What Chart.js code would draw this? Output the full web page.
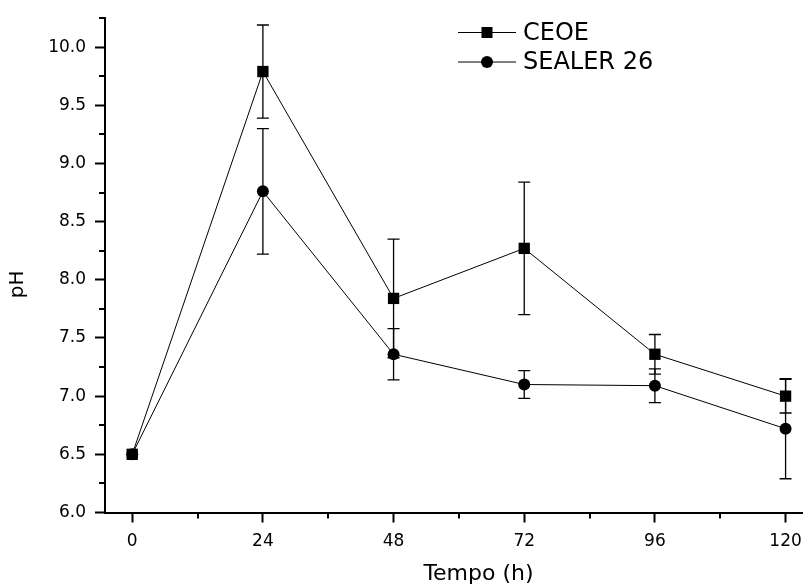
<!DOCTYPE html>
<html>
<head>
<meta charset="utf-8">
<script src="https://cdn.jsdelivr.net/npm/chart.js@4/dist/chart.umd.min.js"></script>
<style>
html,body{margin:0;padding:0;background:#fff;}
#wrap{width:803px;height:587px;position:relative;}
</style>
</head>
<body>
<div id="wrap"><canvas id="c" width="803" height="587"></canvas></div>
<script>
// ---- data ----
const timeHours = [0, 24, 48, 72, 96, 120];
const ceoeValues = [6.50, 9.79, 7.84, 8.27, 7.36, 7.00];
const ceoeErrors = [0.00, 0.40, 0.51, 0.57, 0.17, 0.145];
const sealerValues = [6.50, 8.76, 7.36, 7.10, 7.09, 6.72];
const sealerErrors = [0.00, 0.54, 0.22, 0.12, 0.145, 0.43];
const seriesNames = ['CEOE', 'SEALER 26'];
const xTickValues = [0, 24, 48, 72, 96, 120];
const xMinorTicks = [12, 36, 60, 84, 108];
const yTickValues = [6.0, 6.5, 7.0, 7.5, 8.0, 8.5, 9.0, 9.5, 10.0];
const yMinorTicks = [6.25, 6.75, 7.25, 7.75, 8.25, 8.75, 9.25, 9.75, 10.25];
const xTitle = 'Tempo (h)';
const yTitle = 'pH';

const FONT = "'DejaVu Sans', sans-serif";

function pts(vals) { return timeHours.map((t, i) => ({x: t, y: vals[i]})); }

const errorBarPlugin = {
  id: 'errorBars',
  beforeDatasetsDraw(chart) {
    const ctx = chart.ctx;
    const xs = chart.scales.x, ys = chart.scales.y;
    const errs = [ceoeErrors, sealerErrors];
    const vals = [ceoeValues, sealerValues];
    ctx.save();
    ctx.strokeStyle = '#000';
    ctx.lineWidth = 1.3;
    errs.forEach((e, d) => {
      timeHours.forEach((t, i) => {
        if (!e[i]) return;
        const px = xs.getPixelForValue(t);
        const top = ys.getPixelForValue(vals[d][i] + e[i]);
        const bot = ys.getPixelForValue(vals[d][i] - e[i]);
        ctx.beginPath();
        ctx.moveTo(px, top); ctx.lineTo(px, bot);
        ctx.moveTo(px - 6, top); ctx.lineTo(px + 6, top);
        ctx.moveTo(px - 6, bot); ctx.lineTo(px + 6, bot);
        ctx.stroke();
      });
    });
    ctx.restore();
  }
};

const minorTickPlugin = {
  id: 'minorTicks',
  afterDraw(chart) {
    const ctx = chart.ctx;
    const xs = chart.scales.x, ys = chart.scales.y;
    const ca = chart.chartArea;
    ctx.save();
    ctx.strokeStyle = '#000';
    ctx.lineWidth = 2;
    ctx.beginPath();
    xMinorTicks.forEach(v => {
      const px = Math.round(xs.getPixelForValue(v));
      ctx.moveTo(px, ca.bottom); ctx.lineTo(px, ca.bottom + 6);
    });
    yMinorTicks.forEach(v => {
      const py = Math.round(ys.getPixelForValue(v));
      ctx.moveTo(ca.left, py); ctx.lineTo(ca.left - 6, py);
    });
    ctx.stroke();
    ctx.restore();
  }
};

const legendPlugin = {
  id: 'customLegend',
  afterDraw(chart) {
    const ctx = chart.ctx;
    const items = [
      {name: seriesNames[0], style: 'rect', y: 32.5},
      {name: seriesNames[1], style: 'circle', y: 62}
    ];
    ctx.save();
    items.forEach(it => {
      ctx.strokeStyle = '#000';
      ctx.lineWidth = 1;
      ctx.beginPath();
      ctx.moveTo(458, it.y); ctx.lineTo(516, it.y);
      ctx.stroke();
      ctx.fillStyle = '#000';
      if (it.style === 'rect') {
        ctx.fillRect(487 - 5.5, it.y - 5.5, 11, 11);
      } else {
        ctx.beginPath(); ctx.arc(487, it.y, 6, 0, Math.PI * 2); ctx.fill();
      }
      ctx.font = '24px ' + FONT;
      ctx.textBaseline = 'middle';
      ctx.textAlign = 'left';
      ctx.fillText(it.name, 523, it.y + 1);
    });
    ctx.restore();
  }
};

new Chart(document.getElementById('c'), {
  type: 'line',
  data: {
    datasets: [
      {
        label: seriesNames[0], data: pts(ceoeValues), order: 1,
        borderColor: '#000', backgroundColor: '#000', borderWidth: 1,
        pointStyle: 'rect', pointRadius: 8, pointHoverRadius: 8, pointBorderWidth: 0
      },
      {
        label: seriesNames[1], data: pts(sealerValues), order: 0,
        borderColor: '#000', backgroundColor: '#000', borderWidth: 1,
        pointStyle: 'circle', pointRadius: 6, pointHoverRadius: 6, pointBorderWidth: 0
      }
    ]
  },
  options: {
    responsive: false,
    animation: false,
    events: [],
    clip: false,
    layout: {autoPadding: false, padding: {top: 18, left: 0, right: 0, bottom: 0}},
    plugins: {legend: {display: false}, tooltip: {enabled: false}},
    scales: {
      x: {
        type: 'linear', min: -5, max: 123.2,
        afterBuildTicks: s => { s.ticks = xTickValues.map(v => ({value: v})); },
        afterFit: s => { s.height = 74.5; s.paddingLeft = 0; s.paddingRight = 0; },
        grid: {drawOnChartArea: false, drawTicks: true, tickLength: 10, tickWidth: 2, tickColor: '#000'},
        border: {display: true, color: '#000', width: 2},
        ticks: {color: '#000', font: {family: FONT, size: 17}, padding: 9, maxRotation: 0,
                callback: v => String(v)},
        title: {display: true, text: '       ' + xTitle, color: '#000',
                font: {family: FONT, size: 22}, padding: {top: 0, bottom: 0}}
      },
      y: {
        type: 'linear', min: 6.0, max: 10.25,
        afterBuildTicks: s => { s.ticks = yTickValues.map(v => ({value: v})); },
        afterFit: s => { s.width = 105; s.paddingTop = 0; s.paddingBottom = 0; },
        grid: {drawOnChartArea: false, drawTicks: true, tickLength: 10, tickWidth: 2, tickColor: '#000'},
        border: {display: true, color: '#000', width: 2},
        ticks: {color: '#000', font: {family: FONT, size: 17}, padding: 9,
                callback: v => Number(v).toFixed(1)},
        title: {display: true, text: yTitle + '      ', color: '#000',
                font: {family: FONT, size: 20}, padding: {top: 6, bottom: 0}}
      }
    }
  },
  plugins: [errorBarPlugin, minorTickPlugin, legendPlugin]
});
</script>
</body>
</html>
